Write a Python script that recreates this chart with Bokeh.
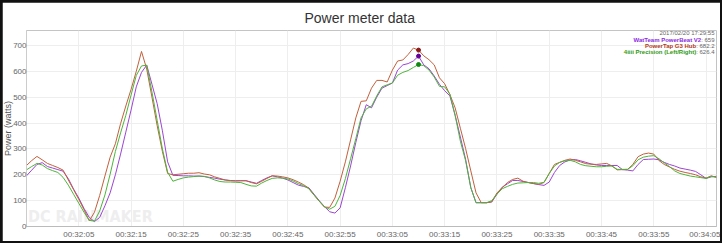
import math
from bokeh.plotting import figure
from bokeh.layouts import column
from bokeh.models import ColumnDataSource, FixedTicker, Range1d, Label, Title
from bokeh.embed import file_html
from bokeh.resources import INLINE

# ---------------- data ----------------
start_time = "00:31:55"          # first sample, one sample per second
tick_labels = ["00:32:05", "00:32:15", "00:32:25", "00:32:35", "00:32:45", "00:32:55",
               "00:33:05", "00:33:15", "00:33:25", "00:33:35", "00:33:45", "00:33:55", "00:34:05"]
y_ticks = [0, 100, 200, 300, 400, 500, 600, 700]

watteam = [196, 218, 240, 247, 232,
           226, 220, 214, 185, 145, 110, 70, 35, 19, 35,
           80, 130, 200, 280, 365, 450, 540, 596, 624, 550,
           475, 370, 250, 198, 197, 196, 196, 195, 195, 193,
           190, 187, 183, 180, 178, 177, 177, 177, 172, 167,
           178, 188, 196, 192, 187, 180, 170, 160, 155, 150,
           125, 100, 77, 57, 52, 72, 150, 234, 325, 409,
           471, 459, 500, 535, 545, 555, 605, 625, 630, 640,
           659, 625, 610, 582, 550, 525, 505, 430, 346, 260,
           150, 92, 92, 92, 95, 125, 152, 165, 178, 178,
           174, 170, 166, 162, 159, 172, 209, 236, 250, 257,
           259, 254, 248, 242, 238, 236, 236, 236, 236, 220,
           218, 215, 240, 259, 260, 261, 258, 248, 240, 234,
           226, 222, 218, 213, 200, 186, 192, 194]

powertap = [236, 255, 271, 258, 244,
            236, 228, 218, 180, 143, 105, 65, 22, 55, 120,
            195, 268, 320, 398, 466, 530, 600, 677, 609, 500,
            390, 290, 205, 200, 202, 204, 206, 206, 208, 203,
            200, 192, 186, 180, 177, 176, 177, 177, 170, 165,
            175, 186, 196, 195, 192, 188, 181, 172, 162, 148,
            122, 98, 75, 74, 110, 175, 250, 335, 420, 484,
            486, 535, 565, 565, 559, 605, 640, 644, 665, 690,
            682.2, 660, 645, 625, 575, 552, 510, 459, 380, 302,
            215, 130, 92, 92, 95, 130, 150, 170, 182, 187,
            175, 170, 166, 163, 170, 205, 240, 248, 256, 261,
            256, 250, 243, 241, 240, 242, 244, 234, 219, 220,
            221, 240, 270, 280, 284, 280, 255, 240, 230, 221,
            214, 209, 205, 200, 192, 187, 196, 190]

four_iiii = [219, 232, 244, 238, 224,
             216, 209, 190, 160, 125, 90, 55, 24, 21, 60,
             122, 202, 290, 362, 430, 508, 584, 621, 624, 520,
             410, 300, 210, 175, 182, 188, 191, 193, 195, 194,
             188, 180, 174, 172, 172, 171, 170, 163, 157, 156,
             168, 178, 186, 188, 187, 184, 176, 166, 158, 146,
             122, 98, 76, 67, 78, 120, 185, 262, 340, 420,
             455, 465, 505, 540, 548, 555, 585, 596, 603, 615,
             626.4, 622, 605, 578, 542, 540, 512, 430, 330, 255,
             150, 92, 92, 92, 100, 125, 146, 155, 163, 168,
             169, 170, 170, 167, 171, 205, 234, 248, 254, 256,
             250, 240, 235, 233, 231, 231, 233, 234, 221, 221,
             221, 235, 258, 268, 272, 274, 262, 246, 232, 215,
             205, 200, 195, 192, 189, 186, 194, 190]

series_names = ["WatTeam PowerBeat V2", "PowerTap G3 Hub", "4iiii Precision (Left/Right)"]
hover_timestamp = "2017/02/20 17:29:55"
hover_time = "00:33:10"


def to_sec(s):
    h, m, sec = [int(v) for v in s.split(":")]
    return h * 3600 + m * 60 + sec


base = to_sec("00:32:00")
t0 = to_sec(start_time) - base
n = len(watteam)
xs = [t0 + i for i in range(n)]
ticks = [to_sec(s) - base for s in tick_labels]
hover_x = to_sec(hover_time) - base
hi = xs.index(hover_x)

# ---------------- figure ----------------
FONT = "Liberation Sans"
p = figure(width=718, height=239, output_backend="svg", toolbar_location=None,
           x_range=Range1d(xs[0], xs[-1]), y_range=Range1d(0, 758),
           min_border_left=0, min_border_right=4, min_border_top=24, min_border_bottom=13)
p.background_fill_color = "white"
p.border_fill_color = "white"
p.outline_line_color = None

p.title.text = "Power meter data"
p.title.align = "left"
p.title.offset = 278
p.title.text_font = FONT
p.title.text_font_size = "14px"
p.title.text_font_style = "normal"
p.title.text_color = "#333333"

# y-axis title as a left-side title (narrow panel)
p.add_layout(Title(text="Power (watts)", align="center", text_font=FONT, text_font_size="9px",
                   text_font_style="normal", text_color="#555555", standoff=-4, offset=0),
             "left")

p.xaxis.ticker = FixedTicker(ticks=ticks)
p.xaxis.major_label_overrides = {t: lab for t, lab in zip(ticks, tick_labels)}
p.yaxis.ticker = FixedTicker(ticks=y_ticks)
p.xgrid.ticker = FixedTicker(ticks=ticks)
p.ygrid.ticker = FixedTicker(ticks=y_ticks)
for ax in (p.xaxis, p.yaxis):
    ax.major_label_text_font = FONT
    ax.major_label_text_font_size = "8px"
    ax.major_label_text_color = "#666666"
    ax.major_tick_out = 0
    ax.major_tick_in = 0
    ax.minor_tick_out = 0
    ax.minor_tick_in = 0
    ax.major_label_standoff = 3
p.yaxis.major_label_standoff = 0
p.xaxis.axis_line_color = "#bbbbbb"
p.yaxis.axis_line_color = "#cccccc"
p.grid.grid_line_color = "#eeeeee"
p.grid.grid_line_width = 1

# watermark
p.add_layout(Label(x=xs[0] + 0.3, y=3, text="DC RAINMAKER", text_font="DejaVu Sans Condensed",
                   text_font_size="16px", text_font_style="bold", text_color="#eeeeee",
                   text_baseline="bottom", level="underlay"))

line_colors = ["#9d44d2", "#c0603c", "#4db43a"]
marker_colors = ["#660099", "#8b1a1a", "#118811"]
label_colors = ["#8a2be2", "#b03a1a", "#2e9a10"]
all_series = [watteam, powertap, four_iiii]

for vals, lc in zip(all_series, line_colors):
    src = ColumnDataSource(dict(x=xs, y=vals))
    p.line("x", "y", source=src, line_color=lc, line_width=1)
for vals, mc in zip(all_series, marker_colors):
    p.scatter([xs[hi]], [vals[hi]], size=4, color=mc)

# tooltip-like text block (top right)
right_x = xs[-1]
y_rows = [748, 723, 698, 674]
p.add_layout(Label(x=right_x, y=y_rows[0], text=hover_timestamp, text_font=FONT,
                   text_font_size="6px", text_color="#666666", text_align="right",
                   text_baseline="middle", x_offset=-2))
for k, (name, vals, col) in enumerate(zip(series_names, all_series, label_colors)):
    val_txt = ": " + (str(vals[hi]) if not float(vals[hi]).is_integer() else str(int(vals[hi])))
    w = 6 * (0.278 * val_txt.count(":") + 0.278 * val_txt.count(" ")
             + 0.556 * sum(c.isdigit() for c in val_txt) + 0.278 * val_txt.count("."))
    p.add_layout(Label(x=right_x, y=y_rows[k + 1], text=val_txt, text_font=FONT,
                       text_font_size="6px", text_color="#666666", text_align="right",
                       text_baseline="middle", x_offset=-2))
    p.add_layout(Label(x=right_x, y=y_rows[k + 1], text=name, text_font=FONT,
                       text_font_size="6px", text_font_style="bold", text_color=col,
                       text_align="right", text_baseline="middle", x_offset=-2 - w))

layout = column(p, width=722, height=243,
                styles={"background-color": "#111111", "padding": "2px", "box-sizing": "border-box"})

open("out.html", "w").write(file_html(layout, INLINE))
